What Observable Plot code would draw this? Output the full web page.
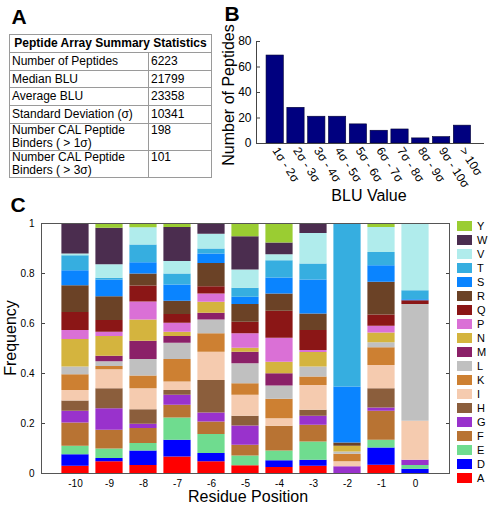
<!DOCTYPE html>
<html><head><meta charset="utf-8">
<script src="https://cdn.jsdelivr.net/npm/d3@7"></script>
<script src="https://cdn.jsdelivr.net/npm/@observablehq/plot@0.6"></script>
<style>
body{margin:0;background:#fff;font-family:"Liberation Sans",Arial,Helvetica,sans-serif;color:#000;}
#root{position:relative;width:493px;height:509px;overflow:hidden;background:#fff;}
.abs{position:absolute;white-space:nowrap;}
.panel{font-weight:bold;font-size:21px;line-height:21px;}
.title{font-size:16px;line-height:16px;}
table.stats{position:absolute;left:9px;top:34px;width:202px;border-collapse:collapse;font-size:12px;table-layout:fixed;}
table.stats td{border:1px solid #9a9a9a;padding:0 2px;vertical-align:top;white-space:pre-line;}
table.stats th{border:1px solid #9a9a9a;padding:0;font-weight:bold;line-height:17px;text-align:center;}
.leg{position:absolute;font-size:11px;line-height:11px;}
.sw{position:absolute;width:15px;height:10px;}
</style></head><body><div id="root"></div>
<script>
// ---------- Panel A data ----------
const statTitle = "Peptide Array Summary Statistics";
const statLabels = ["Number of Peptides","Median BLU","Average BLU","Standard Deviation (σ)","Number CAL Peptide\nBinders ( > 1σ)","Number CAL Peptide\nBinders ( > 3σ)"];
const statValues = ["6223","21799","23358","10341","198","101"];

// ---------- Panel B data ----------
const bluBins = ["1σ - 2σ","2σ - 3σ","3σ - 4σ","4σ - 5σ","5σ - 6σ","6σ - 7σ","7σ - 8σ","8σ - 9σ","9σ - 10σ","> 10σ"];
const bluCounts = [69,28,21,21,15,10,11,4,5,14];
const bTicks = [0,20,40,60,80];

// ---------- Panel C data ----------
const positions = [-10,-9,-8,-7,-6,-5,-4,-3,-2,-1,0];
const residues = ["A","D","E","F","G","H","I","K","L","M","N","P","Q","R","S","T","V","W","Y"];
const residueColors = ["#ff0000","#0000ff","#6fdc8f","#b87333","#9932cc","#8b5e3c","#f5cbaf","#cd8032","#c0c0c0","#8b2068","#d4b43e","#da70d6","#8b1616","#6b4226","#0a84ff","#36aee0","#b0ecec","#4b2d4f","#9acd32"];
const freqA = [0.029,0.047,0.032,0.066,0.047,0.031,0.024,0.029,0,0.033,0];
const freqD = [0.046,0.013,0.058,0.067,0.033,0,0.027,0.024,0,0.069,0.017];
const freqE = [0.034,0.038,0.030,0.089,0.076,0.039,0.039,0.073,0,0.031,0.015];
const freqF = [0.093,0.075,0.060,0.051,0.050,0.043,0.099,0.067,0,0.116,0];
const freqG = [0.047,0.086,0.017,0.040,0.036,0.077,0,0.036,0.027,0.013,0.021];
const freqH = [0.041,0.080,0.058,0.019,0.130,0.039,0,0.024,0,0.077,0];
const freqI = [0.042,0.076,0.084,0.034,0.113,0.084,0.030,0.099,0.020,0.093,0.156];
const freqK = [0.063,0.013,0.051,0.090,0.074,0.046,0.078,0.034,0.030,0.071,0];
const freqL = [0.031,0.019,0.066,0.065,0.055,0.080,0.053,0.040,0.009,0.020,0.467];
const freqM = [0,0.022,0.073,0.027,0.027,0.046,0.049,0,0,0,0];
const freqN = [0.110,0.079,0.085,0.017,0.044,0.016,0.046,0.058,0.023,0.039,0];
const freqP = [0.036,0.017,0.072,0.036,0.033,0.058,0.096,0.008,0,0.027,0];
const freqQ = [0.072,0.047,0.064,0.035,0.029,0.046,0.108,0.080,0,0.045,0.015];
const freqR = [0.107,0.095,0.048,0.053,0.093,0.071,0.069,0.066,0.013,0.131,0];
const freqS = [0.060,0.067,0.045,0.065,0.038,0.029,0.064,0.136,0.224,0.066,0.004];
const freqT = [0.060,0.007,0.071,0.044,0.020,0.036,0.069,0.064,0.654,0.053,0.036];
const freqV = [0.007,0.054,0.069,0.050,0.059,0.073,0.024,0.122,0,0.100,0.269];
const freqW = [0.122,0.146,0,0.136,0.043,0.133,0.047,0.040,0,0,0];
const freqY = [0,0.019,0.017,0.016,0,0.053,0.078,0,0,0.016,0];
const freqTicks = [0,0.2,0.4,0.6,0.8,1];

const freqs = [freqA,freqD,freqE,freqF,freqG,freqH,freqI,freqK,freqL,freqM,freqN,freqP,freqQ,freqR,freqS,freqT,freqV,freqW,freqY];
const FONT = '"Liberation Sans", Arial, Helvetica, sans-serif';
const root = document.getElementById("root");

function label(text, x, y, cls, rotate) {
  const d = document.createElement("div");
  d.className = "abs " + cls;
  d.textContent = text;
  d.style.left = x + "px";
  d.style.top = y + "px";
  d.style.transform = "translate(-50%,-50%)" + (rotate ? ` rotate(${rotate}deg)` : "");
  root.appendChild(d);
}

// ---------- Panel A ----------
label("A", 19, 16, "panel");
const table = document.createElement("table");
table.className = "stats";
const cg = document.createElement("colgroup");
cg.innerHTML = '<col style="width:139px"><col style="width:63px">';
table.appendChild(cg);
const hr = document.createElement("tr");
const th = document.createElement("th");
th.colSpan = 2; th.textContent = statTitle; th.style.height = "17px";
hr.appendChild(th); table.appendChild(hr);
statLabels.forEach((l, i) => {
  const tr = document.createElement("tr");
  const two = l.includes("\n");
  const a = document.createElement("td"); a.textContent = l;
  const b = document.createElement("td"); b.textContent = statValues[i];
  [a, b].forEach(td => { td.style.height = (two ? 26 : 16.7) + "px"; td.style.lineHeight = two ? "13px" : "16.7px"; });
  tr.appendChild(a); tr.appendChild(b); table.appendChild(tr);
});
root.appendChild(table);

// ---------- Panel B ----------
label("B", 232, 13, "panel");
const bData = bluBins.map((bin, i) => ({bin, count: bluCounts[i]}));
const plotB = Plot.plot({
  width: 273, height: 200,
  marginLeft: 36, marginRight: 10, marginTop: 41, marginBottom: 57,
  style: {background: "transparent", fontFamily: FONT, fontSize: "12px", color: "#000"},
  x: {type: "band", domain: bluBins, paddingInner: 0.17, paddingOuter: 0.54, align: 0.447, round: false, label: null},
  y: {domain: [0, 80], label: null},
  marks: [
    Plot.barY(bData, {x: "bin", y: "count", fill: "#00007f", stroke: "#000033", strokeWidth: 0.6}),
    Plot.axisY({ticks: bTicks, tickSize: -4, tickPadding: 9, stroke: "#444", label: null}),
    Plot.axisX({tickSize: 0, tickPadding: 5, tickRotate: 57, label: null}),
    Plot.frame({anchor: "left", stroke: "#444"}),
    Plot.frame({anchor: "bottom", stroke: "#444"})
  ]
});
plotB.style.position = "absolute"; plotB.style.left = "220px"; plotB.style.top = "0px";
root.appendChild(plotB);
label("Number of Peptides", 229, 95, "title", -90);
label("BLU Value", 369, 196, "title");

// ---------- Panel C ----------
label("C", 18, 204, "panel");
const cData = residues.flatMap((r, ri) => positions.map((p, pi) => ({pos: String(p), residue: r, freq: freqs[ri][pi]})))
  .filter(d => d.freq > 0);
const plotC = Plot.plot({
  width: 493, height: 319,
  marginLeft: 41, marginRight: 44, marginTop: 33, marginBottom: 36,
  style: {background: "transparent", fontFamily: FONT, fontSize: "10px", color: "#000"},
  x: {type: "band", domain: positions.map(String), paddingInner: 0.2, paddingOuter: 0.6, align: 0.5, round: false, label: null},
  y: {domain: [0, 1], label: null},
  color: {domain: residues, range: residueColors},
  marks: [
    Plot.barY(cData, {x: "pos", y: "freq", fill: "residue"}),
    Plot.axisY({ticks: freqTicks, tickSize: -4, tickPadding: 11, stroke: "#444", tickFormat: d => String(+d.toFixed(1)), label: null}),
    Plot.axisY({anchor: "right", ticks: freqTicks.slice(1, -1), tickSize: -4, stroke: "#444", fill: "none", label: null}),
    Plot.axisX({tickSize: 0, tickPadding: 6, label: null}),
    Plot.frame({stroke: "#555"})
  ]
});
plotC.style.position = "absolute"; plotC.style.left = "0px"; plotC.style.top = "190px";
root.appendChild(plotC);
label("Frequency", 11, 338, "title", -90);
label("Residue Position", 248, 497, "title");

// legend (Y at top down to A)
residues.slice().reverse().forEach((r, i) => {
  const ci = residues.indexOf(r);
  const y = 226 + i * 14;
  const sw = document.createElement("div");
  sw.className = "sw"; sw.style.left = "457px"; sw.style.top = (y - 5) + "px";
  sw.style.background = residueColors[ci];
  root.appendChild(sw);
  const t = document.createElement("div");
  t.className = "leg"; t.textContent = r; t.style.left = "477px"; t.style.top = (y - 5.5) + "px";
  root.appendChild(t);
});
</script></body></html>
